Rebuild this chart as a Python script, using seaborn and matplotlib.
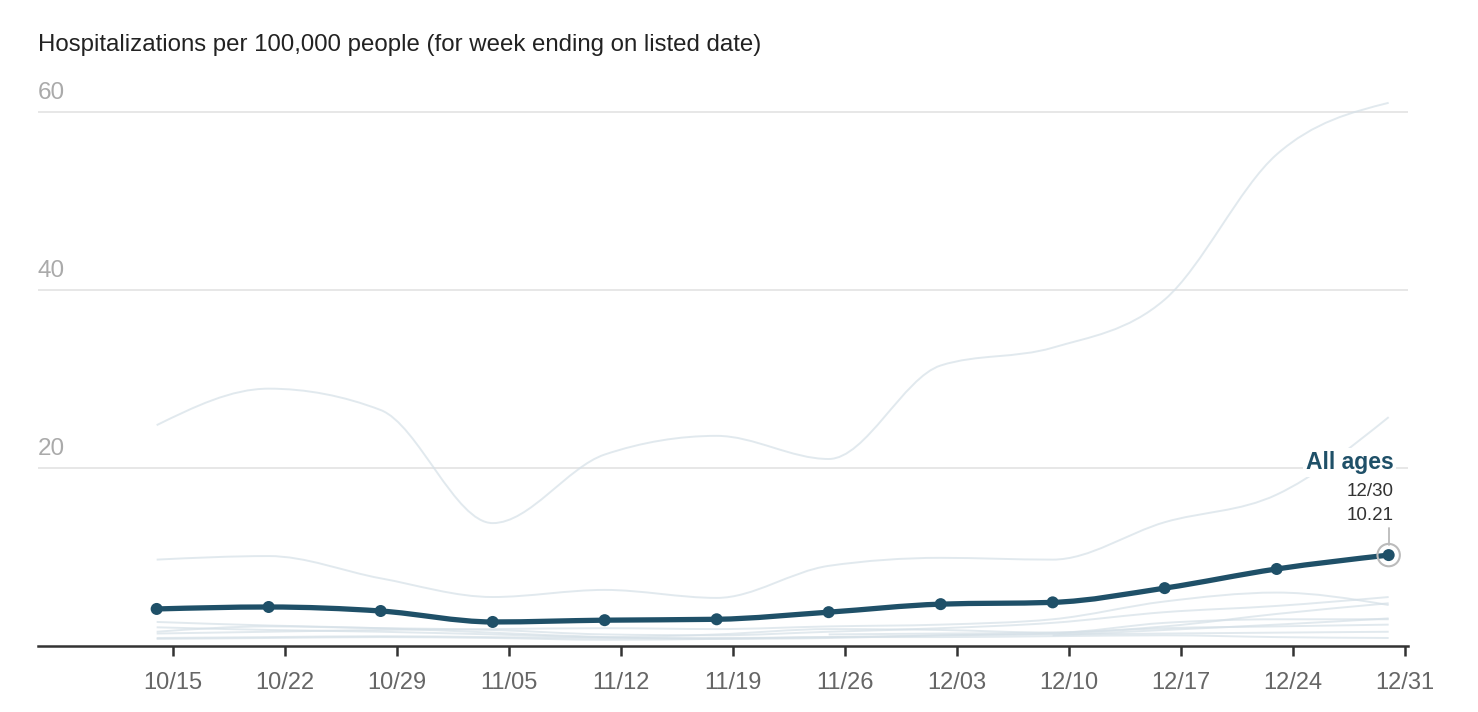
import numpy as np
import pandas as pd
import seaborn as sns
import matplotlib.pyplot as plt
import matplotlib.dates as mdates
from matplotlib.path import Path
from matplotlib.patches import PathPatch

# weekly data (week ending on date)
dates = pd.date_range('2023-10-14', '2023-12-30', freq='7D')
all_ages = [4.16, 4.38, 3.93, 2.7, 2.9, 3.0, 3.8, 4.7, 4.9, 6.5, 8.65, 10.21]

# age groups, drawn faint in the background
age_65_plus = [24.8, 28.9, 26.5, 13.8, 21.5, 23.6, 21.0, 31.5, 33.5, 38.9, 55.2, 61.0]
age_50_64 = [9.7, 10.1, 7.6, 5.5, 6.3, 5.4, 9.0, 9.9, 9.7, 13.9, 17.0, 25.7]
age_a = [2.7, 2.3, 2.0, 1.5, 1.0, 0.8, 0.9, 1.2, 1.4, 2.0, 2.2, 2.4]
age_b = [1.6, 2.2, 2.0, 1.8, 1.3, 1.2, 1.6, 2.0, 2.6, 3.8, 4.5, 5.5]
age_c = [0.9, 1.0, 1.1, 1.0, 0.9, 0.9, 1.0, 1.2, 1.3, 1.4, 1.5, 1.6]
age_d = [2.1, 1.8, 1.6, 1.3, 1.0, 1.3, 1.9, 1.8, 1.5, 2.6, 3.0, 3.0]
age_e = [1.4, 1.6, 1.8, 1.9, 2.0, 1.9, 2.2, 2.4, 3.0, 5.0, 6.0, 4.6]
age_f = [0.8, 0.9, 1.0, 0.9, 0.7, 0.8, 1.0, 1.0, 1.1, 1.2, 1.0, 0.9]
age_g = [np.nan] * 6 + [1.3, 1.4, 1.5, 2.2, 3.6, 4.8]
age_h = [np.nan] * 8 + [1.2, 1.8, 2.4, 3.1]

background = [age_65_plus, age_50_64, age_a, age_b, age_c, age_d, age_e, age_f, age_g, age_h]
tick_dates = pd.date_range('2023-10-15', '2023-12-31', freq='7D')

MAIN = '#1f5068'
FAINT = '#d5e0e7'


def monotone_path(x, y):
    # bezier path like d3.curveMonotoneX
    x = np.asarray(x, float)
    y = np.asarray(y, float)
    n = len(x)
    h = np.diff(x)
    s = np.diff(y) / h
    t = np.zeros(n)
    for i in range(1, n - 1):
        if s[i - 1] * s[i] <= 0:
            t[i] = 0
        else:
            p = (s[i - 1] * h[i] + s[i] * h[i - 1]) / (h[i - 1] + h[i])
            t[i] = (np.sign(s[i - 1]) + np.sign(s[i])) * min(abs(s[i - 1]), abs(s[i]), 0.5 * abs(p))
    if n > 2:
        t[0] = (3 * s[0] - t[1]) / 2
        t[-1] = (3 * s[-1] - t[-2]) / 2
    else:
        t[:] = s[0]
    verts = [(x[0], y[0])]
    codes = [Path.MOVETO]
    for i in range(n - 1):
        dx = h[i] / 3
        verts += [(x[i] + dx, y[i] + dx * t[i]), (x[i + 1] - dx, y[i + 1] - dx * t[i + 1]), (x[i + 1], y[i + 1])]
        codes += [Path.CURVE4] * 3
    return Path(verts, codes)


def smooth_line(ax, x, y, **kw):
    x = np.asarray(x, float)
    y = np.asarray(y, float)
    ok = ~np.isnan(y)
    ax.add_patch(PathPatch(monotone_path(x[ok], y[ok]), fill=False, **kw))


sns.set_style('white')
plt.rcParams['font.family'] = ['Liberation Sans', 'DejaVu Sans']

fig = plt.figure(figsize=(14.78, 7.12), dpi=100)
ax = fig.add_axes([38 / 1478, 66 / 712, 1370 / 1478, (646 - 85) / 712])

xnum = mdates.date2num(dates)

for series in background:
    smooth_line(ax, xnum, series, edgecolor=FAINT, lw=1.4, alpha=0.7, zorder=2)

smooth_line(ax, xnum, all_ages, edgecolor=MAIN, lw=3.8, capstyle='round', joinstyle='round', zorder=4)
df = pd.DataFrame({'date': xnum, 'value': all_ages})
sns.scatterplot(data=df, x='date', y='value', color=MAIN, s=75, edgecolor='none', zorder=5, ax=ax)

# highlight ring on last point
ax.scatter([xnum[-1]], [all_ages[-1]], s=260, facecolor='none', edgecolor='#bbbbbb', lw=1.5, zorder=5)

ax.set_xlim(mdates.date2num(pd.Timestamp('2023-10-06 14:00')), mdates.date2num(pd.Timestamp('2023-12-31 05:00')))
ax.set_ylim(0, 63)

ax.set_yticks([20, 40, 60])
ax.yaxis.grid(True, color='#e3e3e3', lw=1.2)
ax.set_axisbelow(True)
ax.tick_params(axis='y', length=0, labelleft=False)
for v in [20, 40, 60]:
    ax.text(0, v + 0.9, str(v), transform=ax.get_yaxis_transform(), ha='left', va='bottom',
            fontsize=17.5, color='#aaaaaa')

ax.set_xticks(mdates.date2num(tick_dates))
ax.xaxis.set_major_formatter(mdates.DateFormatter('%m/%d'))
ax.tick_params(axis='x', bottom=True, direction='out', length=7, width=1.8, color='#333333',
               labelsize=17, labelcolor='#666666', pad=12)

for side in ['top', 'right', 'left']:
    ax.spines[side].set_visible(False)
ax.spines['bottom'].set_color('#333333')
ax.spines['bottom'].set_linewidth(1.8)
ax.set_xlabel('')
ax.set_ylabel('')

# annotation for last point
lx = xnum[-1] + 0.3
ax.plot([xnum[-1], xnum[-1]], [all_ages[-1] + 1.1, all_ages[-1] + 3.0], color='#bbbbbb', lw=1.3, zorder=5)
ax.text(lx, 20.6, 'All ages', ha='right', va='center', fontsize=16.5, fontweight='bold', color=MAIN, zorder=6,
        bbox=dict(facecolor='white', edgecolor='none', pad=2))
ax.text(lx, 17.4, '12/30', ha='right', va='center', fontsize=13.5, color='#333333', zorder=6)
ax.text(lx, 14.6, '10.21', ha='right', va='center', fontsize=13.5, color='#333333', zorder=6)

fig.text(38 / 1478, 1 - 45 / 712, 'Hospitalizations per 100,000 people (for week ending on listed date)',
         ha='left', va='center', fontsize=17.3, color='#222222')

fig.savefig('out.png', dpi=100)
